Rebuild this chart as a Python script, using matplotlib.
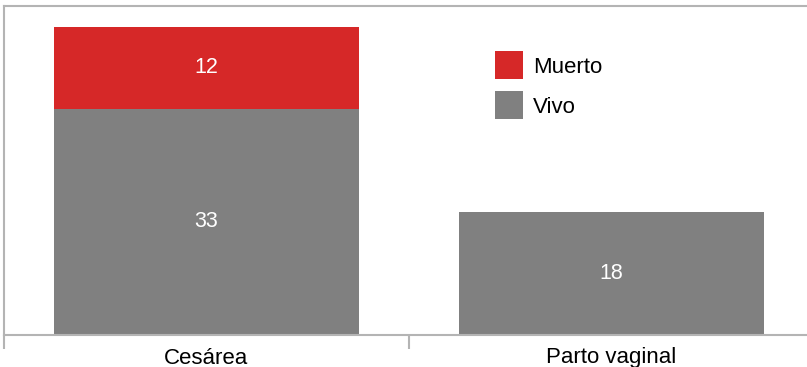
import numpy as np
import matplotlib
matplotlib.use("Agg")
import matplotlib.pyplot as plt

plt.rcParams['font.family'] = ['Liberation Sans', 'DejaVu Sans']

categories = ['Cesárea', 'Parto vaginal']
vivo = [33, 18]
muerto = [12, 0]

color_vivo = '#808080'
color_muerto = '#d62828'
edge = '#b4b4b4'

fig = plt.figure(figsize=(8.07, 3.67), dpi=100)
ax = fig.add_axes([4 / 807, 1 - 335 / 367, 810 / 807, 329 / 367])

x = np.arange(len(categories))
w = 0.753
b1 = ax.bar(x, vivo, w, color=color_vivo, label='Vivo')
b2 = ax.bar(x, muerto, w, bottom=vivo, color=color_muerto, label='Muerto')

# white value labels in the middle of each segment
for rect, v in zip(b1, vivo):
    if v > 0:
        ax.text(rect.get_x() + rect.get_width() / 2, v / 2, str(v),
                ha='center', va='center', color='white', fontsize=15.5)
for rect, v, base in zip(b2, muerto, vivo):
    if v > 0:
        ax.text(rect.get_x() + rect.get_width() / 2, base + v / 2, str(v),
                ha='center', va='center', color='white', fontsize=15.5)

ax.set_xlim(-0.5, len(categories) - 0.5)
ax.set_ylim(0, 48)
ax.set_yticks([])

ax.set_xticks(x)
ax.set_xticklabels(categories, fontsize=16)
ax.tick_params(axis='x', which='major', length=0, pad=9)
ax.set_xticks(np.arange(len(categories) + 1) - 0.5, minor=True)
ax.tick_params(axis='x', which='minor', length=10, width=1.5, color=edge)

for s in ['left', 'top', 'bottom', 'right']:
    ax.spines[s].set_color(edge)
    ax.spines[s].set_linewidth(1.5)

handles, labels = ax.get_legend_handles_labels()
ax.legend(handles[::-1], labels[::-1], loc='upper left', bbox_to_anchor=(0.606, 0.862),
          frameon=False, fontsize=16, handlelength=1.26, handleheight=1.56,
          labelspacing=0.54, handletextpad=0.45, borderpad=0, borderaxespad=0)

fig.savefig('out.png', dpi=100)
